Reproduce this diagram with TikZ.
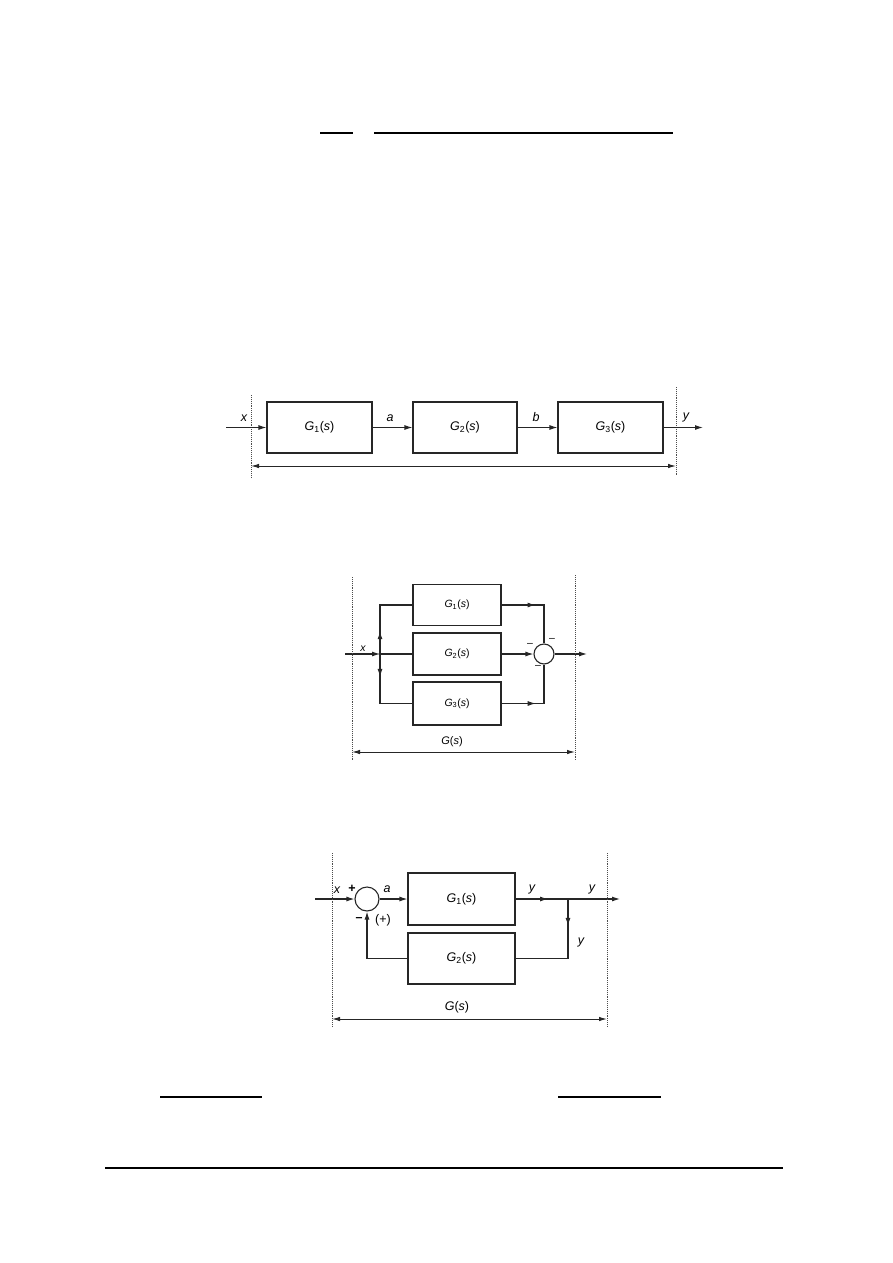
\documentclass[tikz,border=0pt]{standalone}
\usepackage{fontspec}
\setmainfont{Liberation Sans}
\usetikzlibrary{arrows.meta,decorations.markings}
\tikzset{
  ln/.style={draw=black!85, line width=1.1pt},
  blk/.style={ln, rectangle, inner sep=0pt},
  sumc/.style={ln, circle, inner sep=0pt},
  tip/.style={-{Latex[length=8pt,width=5pt]}},
  dim/.style={ln, line width=1pt, {Latex[length=8pt,width=4.5pt]}-{Latex[length=8pt,width=4.5pt]}},
  guide/.style={draw=black!70, line width=0.9pt, densely dotted},
  lbl/.style={inner sep=0pt, font=\fontsize{12.5}{14}\selectfont\itshape},
  blbl/.style={font=\fontsize{12.5}{14}\selectfont},
  slbl/.style={font=\fontsize{10.5}{12}\selectfont},
  midtip/.style={postaction={decorate, decoration={markings,
      mark=at position #1 with {\arrow{Latex[length=8pt,width=5pt]}}}}},
  bar/.style={draw=black, line width=1.2pt}
}
\begin{document}
\begin{tikzpicture}[x=1pt, y=-1pt]
\useasboundingbox (0,0) rectangle (893,1263);

% ---- page rules (equation bars / footer) ----
\coordinate (t1a) at (320,133); \coordinate (t1b) at (353,133);
\coordinate (t2a) at (374,133); \coordinate (t2b) at (673,133);
\draw[bar] (t1a) -- (t1b);
\draw[bar] (t2a) -- (t2b);
\coordinate (u1a) at (160,1097); \coordinate (u1b) at (262,1097);
\coordinate (u2a) at (558,1097); \coordinate (u2b) at (661,1097);
\draw[bar] (u1a) -- (u1b);
\draw[bar] (u2a) -- (u2b);
\coordinate (fa) at (105,1168); \coordinate (fb) at (783,1168);
\draw[bar] (fa) -- (fb);

% ================= Diagram 1: series =================
\node[blk, minimum width=105pt, minimum height=51pt, blbl] (g1) at (319.5,427.5) {\textit{G}\textsubscript{1}(\textit{s})};
\node[blk, minimum width=104pt, minimum height=51pt, blbl] (g2) at (465,427.5) {\textit{G}\textsubscript{2}(\textit{s})};
\node[blk, minimum width=105pt, minimum height=51pt, blbl] (g3) at (610.5,427.5) {\textit{G}\textsubscript{3}(\textit{s})};
\coordinate (in1) at (226,427.5);
\coordinate (out1) at (703,427.5);
\coordinate (d1l) at (251,395); \coordinate (d1lb) at (251,478);
\coordinate (d1r) at (676,387); \coordinate (d1rb) at (676,476);
\coordinate (m1l) at (251,466); \coordinate (m1r) at (676,466);
\draw[guide] (d1l) -- (d1lb);
\draw[guide] (d1r) -- (d1rb);
\draw[ln, tip] (in1) -- (g1.west);
\draw[ln, tip] (g1.east) -- (g2.west);
\draw[ln, tip] (g2.east) -- (g3.west);
\draw[ln, tip] (g3.east) -- (out1);
\draw[dim] (m1l) -- (m1r);
\node[lbl] (lx1) at (244,418) {x};
\node[lbl] (la1) at (390,418) {a};
\node[lbl] (lb1) at (536,417) {b};
\node[lbl] (ly1) at (686,417) {y};

% ================= Diagram 2: parallel =================
\node[blk, minimum width=88pt, minimum height=41pt, slbl] (h1) at (457,605) {\textit{G}\textsubscript{1}(\textit{s})};
\node[blk, minimum width=88pt, minimum height=42pt, slbl] (h2) at (457,654) {\textit{G}\textsubscript{2}(\textit{s})};
\node[blk, minimum width=88pt, minimum height=43pt, slbl] (h3) at (457,703.5) {\textit{G}\textsubscript{3}(\textit{s})};
\node[sumc, minimum size=20pt] (s2) at (544,654) {};
\coordinate (in2) at (345,654);
\coordinate (j2) at (380,654);
\coordinate (out2) at (587,654);
\draw[ln, tip] (in2) -- (j2);
\fill[black!85] (j2) circle (1.6pt);
\draw[ln] (j2) -- (h2.west);
\draw[ln, midtip=0.28] (j2) |- (h1.west);
\draw[ln, midtip=0.28] (j2) |- (h3.west);
\draw[ln, midtip=0.42] (h1.east) -| (s2.north);
\draw[ln, tip] (h2.east) -- (s2.west);
\draw[ln, midtip=0.42] (h3.east) -| (s2.south);
\draw[ln, tip] (s2.east) -- (out2);
\node[lbl, font=\fontsize{10.5}{12}\selectfont\itshape] (lx2) at (363,649) {x};
\node[slbl] (mn1) at (530,645) {\textendash};
\node[slbl] (mn2) at (552,640) {\textendash};
\node[slbl] (mn3) at (538,667) {\textendash};
\coordinate (d2l) at (352,577); \coordinate (d2lb) at (352,760);
\coordinate (d2r) at (575,575); \coordinate (d2rb) at (575,760);
\draw[guide] (d2l) -- (d2lb);
\draw[guide] (d2r) -- (d2rb);
\coordinate (m2l) at (352,752); \coordinate (m2r) at (575,752);
\draw[dim] (m2l) -- (m2r);
\node[font=\fontsize{11}{12}\selectfont] (gs2) at (452,742) {\textit{G}(\textit{s})};

% ================= Diagram 3: feedback =================
\node[blk, minimum width=107pt, minimum height=52pt, blbl] (k1) at (461.5,899) {\textit{G}\textsubscript{1}(\textit{s})};
\node[blk, minimum width=107pt, minimum height=51pt, blbl] (k2) at (461.5,958.5) {\textit{G}\textsubscript{2}(\textit{s})};
\node[sumc, minimum size=24pt] (c3) at (367,899) {};
\coordinate (in3) at (315,899);
\coordinate (b3) at (568,899);
\coordinate (out3) at (620,899);
\draw[ln, tip] (in3) -- (c3.west);
\draw[ln, tip] (c3.east) -- (k1.west);
\draw[ln, midtip=0.62] (k1.east) -- (b3);
\draw[ln, tip] (b3) -- (out3);
\draw[ln, midtip=0.24] (b3) |- (k2.east);
\draw[ln, tip] (k2.west) -| (c3.south);
\node[lbl] (lx3) at (337,890) {x};
\node[blbl] (pl3) at (352,889) {\textbf{+}};
\node[lbl] (la3) at (387,889) {a};
\node[lbl] (ly3a) at (532,889) {y};
\node[lbl] (ly3b) at (592,889) {y};
\node[lbl] (ly3c) at (581,942) {y};
\node[blbl] (mn4) at (359,920) {\textbf{\textendash}};
\node[blbl] (pp3) at (383,920) {(+)};
\coordinate (d3l) at (332,853); \coordinate (d3lb) at (332,1027);
\coordinate (d3r) at (607,853); \coordinate (d3rb) at (607,1027);
\draw[guide] (d3l) -- (d3lb);
\draw[guide] (d3r) -- (d3rb);
\coordinate (m3l) at (332,1019); \coordinate (m3r) at (607,1019);
\draw[dim] (m3l) -- (m3r);
\node[blbl] (gs3) at (457,1007) {\textit{G}(\textit{s})};
\end{tikzpicture}
\end{document}
